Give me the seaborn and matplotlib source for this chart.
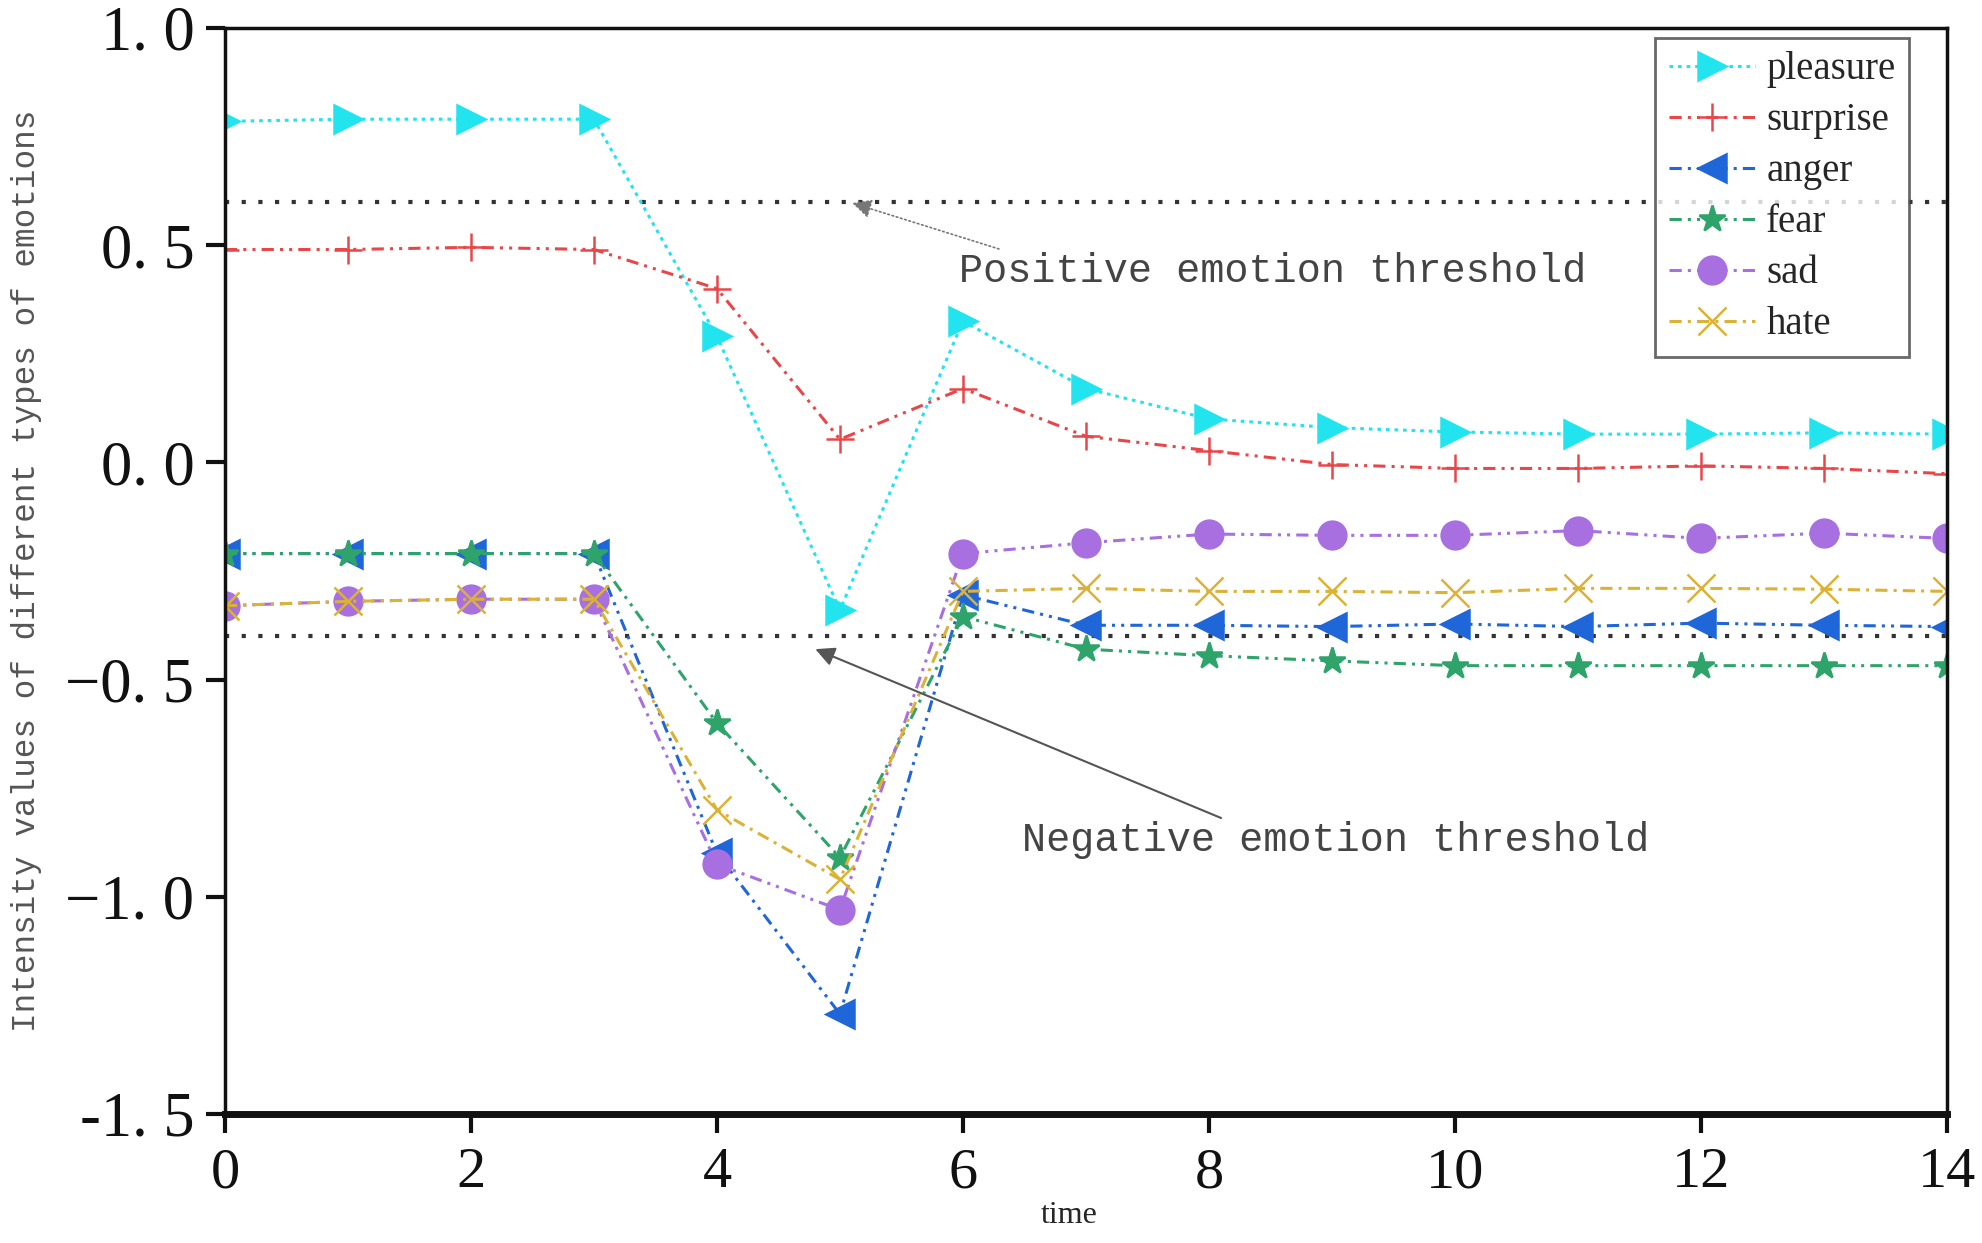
import numpy as np
import pandas as pd
import seaborn as sns
import matplotlib.pyplot as plt

time = list(range(15))
pleasure = [0.785, 0.79, 0.79, 0.79, 0.29, -0.34, 0.325, 0.17, 0.10, 0.08, 0.07, 0.065, 0.065, 0.068, 0.065]
surprise = [0.49, 0.49, 0.495, 0.49, 0.40, 0.053, 0.17, 0.06, 0.027, -0.005, -0.014, -0.014, -0.008, -0.014, -0.026]
anger = [-0.21, -0.21, -0.21, -0.21, -0.90, -1.27, -0.305, -0.375, -0.375, -0.378, -0.372, -0.378, -0.37, -0.375, -0.378]
fear = [-0.21, -0.21, -0.21, -0.21, -0.60, -0.91, -0.355, -0.43, -0.445, -0.457, -0.468, -0.468, -0.468, -0.468, -0.468]
sad = [-0.33, -0.32, -0.315, -0.315, -0.925, -1.03, -0.21, -0.185, -0.165, -0.168, -0.168, -0.157, -0.175, -0.163, -0.175]
hate = [-0.33, -0.32, -0.315, -0.315, -0.80, -0.96, -0.297, -0.29, -0.297, -0.297, -0.30, -0.29, -0.29, -0.292, -0.297]

pos_threshold = 0.6
neg_threshold = -0.4

y_ticks = [-1.5, -1.0, -0.5, 0.0, 0.5, 1.0]
y_ticklabels = ["-1. 5", "\u22121. 0", "\u22120. 5", "0. 0", "0. 5", "1. 0"]
x_ticks = [0, 2, 4, 6, 8, 10, 12, 14]

series = {
    "pleasure": pleasure, "surprise": surprise, "anger": anger,
    "fear": fear, "sad": sad, "hate": hate,
}
styles = {
    "pleasure": dict(color="#22e4ee", marker=">", dashes=(1.2, 1.6)),
    "surprise": dict(color="#e8474a", marker="+", dashes=(4, 2, 1, 2, 1, 2)),
    "anger": dict(color="#1f66d9", marker="<", dashes=(4, 2, 1, 2, 1, 2)),
    "fear": dict(color="#2ea36a", marker="*", dashes=(4, 2, 1, 2, 1, 2)),
    "sad": dict(color="#a86fe0", marker="o", dashes=(4, 2, 1, 2, 1, 2)),
    "hate": dict(color="#dbb236", marker="x", dashes=(4, 2, 1, 2)),
}

sns.set_theme(style="white")
plt.rcParams['font.family'] = ['Liberation Serif', 'DejaVu Serif']

fig = plt.figure(figsize=(19.82, 12.43), dpi=100)
ax = fig.add_axes([0.1135, 0.1038, 0.8688, 0.8737])

for name, vals in series.items():
    st = styles[name]
    sns.lineplot(x=time, y=vals, ax=ax, label=name, color=st["color"],
                 marker=st["marker"], markersize=20, markeredgecolor=st["color"],
                 markeredgewidth=1.8, linewidth=2.2, dashes=False)
    ax.lines[-1].set_dashes(st["dashes"])

ax.axhline(pos_threshold, color="#333333", linestyle=(0, (1, 3)), linewidth=3, zorder=1)
ax.axhline(neg_threshold, color="#333333", linestyle=(0, (1, 3)), linewidth=3, zorder=1)

ax.annotate("Positive emotion threshold", xy=(5.1, 0.597), xytext=(8.52, 0.44),
            fontsize=29, family="Liberation Mono", color="#444444", ha="center", va="center",
            arrowprops=dict(arrowstyle="-|>", color="#777777", lw=1.2, linestyle=":",
                            shrinkA=0, shrinkB=0, relpos=(0.08, 1.0)))
ax.annotate("Negative emotion threshold", xy=(4.8, -0.43), xytext=(9.03, -0.87),
            fontsize=29, family="Liberation Mono", color="#444444", ha="center", va="center",
            arrowprops=dict(arrowstyle="-|>", color="#555555", lw=1.5,
                            shrinkA=0, shrinkB=0, relpos=(0.33, 1.0)))

ax.set_xlim(0, 14)
ax.set_ylim(-1.5, 1.0)
ax.set_xticks(x_ticks)
ax.set_yticks(y_ticks)
ax.set_yticklabels(y_ticklabels)
ax.tick_params(axis="both", which="major", direction="out", length=14, width=3,
               colors="#111111", left=True, bottom=True)
ax.tick_params(axis="x", pad=10, labelsize=42)
ax.tick_params(axis="y", pad=8, labelsize=45)

for side in ["top", "left", "right"]:
    ax.spines[side].set_color("#111111")
    ax.spines[side].set_linewidth(2.5)
ax.spines["bottom"].set_color("#111111")
ax.spines["bottom"].set_linewidth(5)

ax.set_xlabel("time", fontsize=23)
ax.xaxis.set_label_coords(0.49, -0.08)
ax.set_ylabel("Intensity values of different types of emotions", fontsize=23.5,
              family="Liberation Mono", color="#555555")
ax.yaxis.set_label_coords(-0.106, 0.5)

leg = ax.legend(loc="upper right", bbox_to_anchor=(0.978, 0.991), borderaxespad=0,
                fontsize=28, handlelength=2.2, handletextpad=0.3, labelspacing=0.36,
                borderpad=0.35, frameon=True, fancybox=False, edgecolor="#444444")
leg.get_frame().set_linewidth(2)

fig.savefig("out.png", dpi=100)
